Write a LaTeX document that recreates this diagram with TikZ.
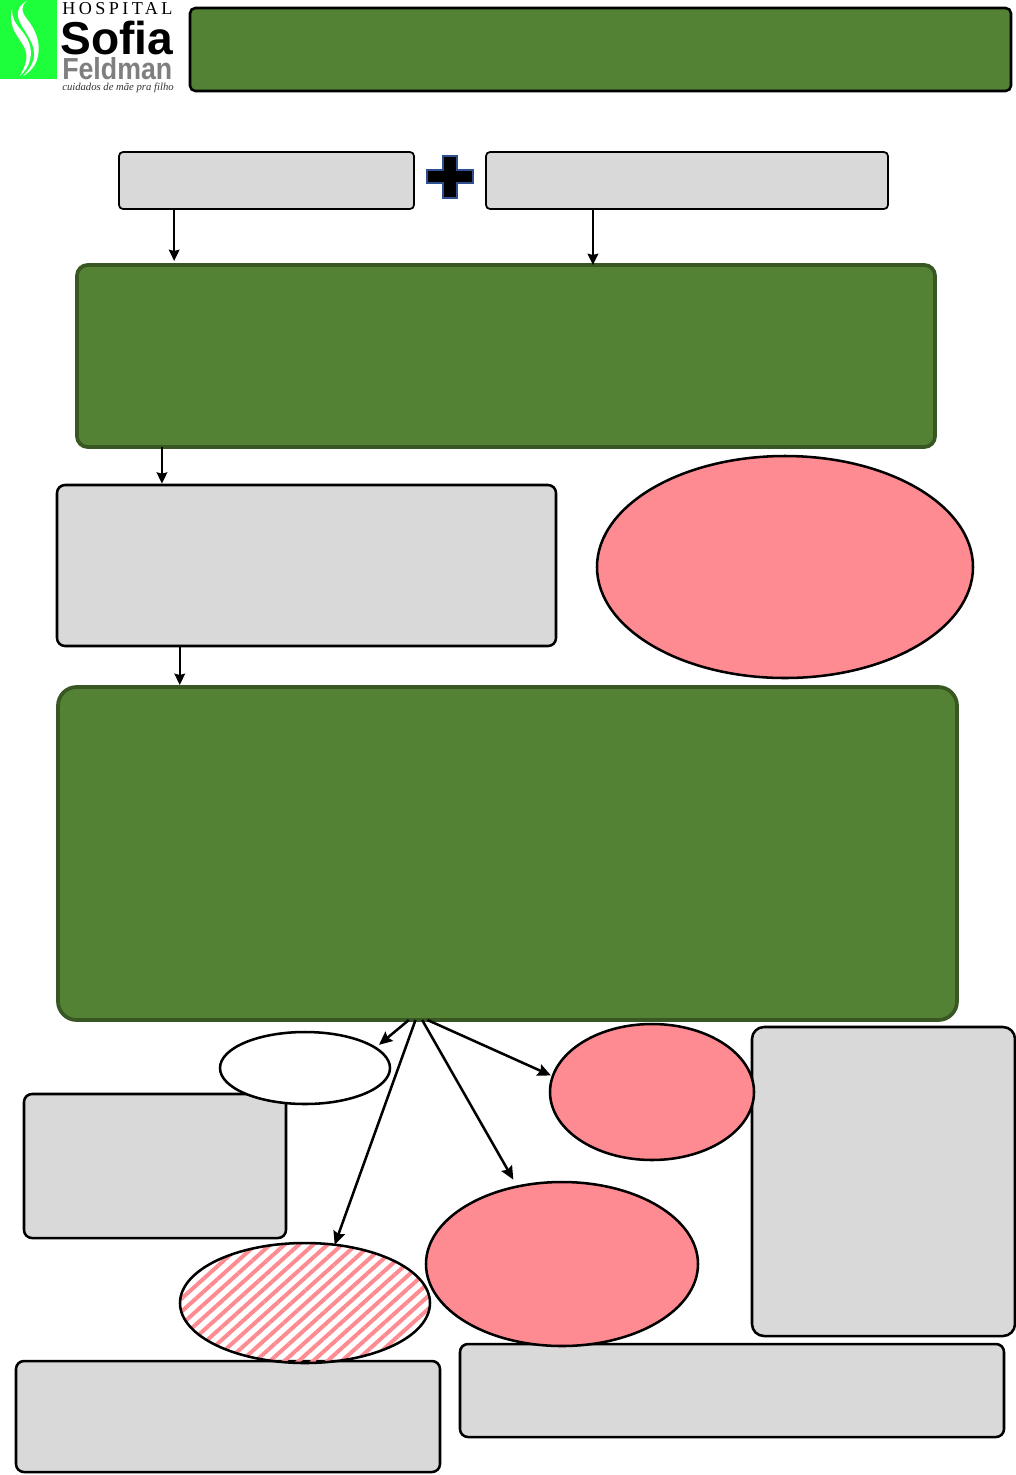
\documentclass[tikz,border=0pt]{standalone}
\usepackage{fontspec}
\setmainfont{Liberation Sans}
\newfontfamily\serifface{Liberation Serif}
\usetikzlibrary{arrows.meta}
\usetikzlibrary{calc}
\usetikzlibrary{patterns.meta}
\usetikzlibrary{shapes.geometric}
\definecolor{leafgreen}{HTML}{548235}
\definecolor{leafdark}{HTML}{385723}
\definecolor{logogreen}{HTML}{1EFF3C}
\definecolor{softgrey}{HTML}{D9D9D9}
\definecolor{softred}{HTML}{FF8B92}
\definecolor{plusblue}{HTML}{2F528F}
\definecolor{logogrey}{HTML}{7F7F7F}

\begin{document}
\begin{tikzpicture}[x=0.75pt, y=-0.75pt,
    sized/.style 2 args={minimum width=#1*0.75pt, minimum height=#2*0.75pt, inner sep=0pt, outer sep=0pt},
    greybox/.style={draw=black, fill=softgrey, line width=1.9pt, rounded corners=6pt},
    thingrey/.style={draw=black, fill=softgrey, line width=1.3pt, rounded corners=3pt},
    greenbox/.style={draw=leafdark, fill=leafgreen, line width=2.8pt, rounded corners=8pt},
    redblob/.style={ellipse, draw=black, fill=softred, line width=1.9pt},
    link/.style={black, line width=1.9pt, -{Stealth[length=10pt, width=9pt, inset=1.5pt]}},
    linkthin/.style={black, line width=1.5pt, -{Stealth[length=8.5pt, width=8pt, inset=1pt]}}]
  \useasboundingbox (0,0) rectangle (1016,1475);

  \fill [logogreen] (0,0) rectangle (57,79);
  \fill [white] (27,1) .. controls (21,5) and (21,12) .. (27,19) .. controls (35,29) and (41,42) .. (38,56) .. controls (36,66) and (30,72) .. (23,76) .. controls (29,70) and (35,62) .. (34,52) .. controls (33,40) and (23,30) .. (19,20) .. controls (16,12) and (19,5) .. (27,1);
  \fill [white] (12,9) .. controls (12,17) and (14,22) .. (21,30) .. controls (28,38) and (33,48) .. (30,60) .. controls (28,68) and (24,72) .. (20,76) .. controls (24,68) and (28,60) .. (26,52) .. controls (24,44) and (16,36) .. (13,28) .. controls (11,22) and (10,14) .. (12,9);
  \node [anchor=base west, inner sep=0pt] (hospital) at (62,14) {\serifface\addfontfeature{LetterSpace=19}\fontsize{13.6pt}{14pt}\selectfont HOSPITAL};
  \node [anchor=base west, inner sep=0pt] (sofia) at (60,54) {\fontsize{34.6pt}{35pt}\selectfont\bfseries Sofia};
  \node [anchor=base west, inner sep=0pt, text=logogrey] (feldman) at (62,79) {\scalebox{0.88}[1]{\fontsize{22.8pt}{23pt}\selectfont\bfseries Feldman}};
  \node [anchor=base west, inner sep=0pt, text=black!80] (motto) at (62,90) {\serifface\itshape\fontsize{8pt}{8pt}\selectfont cuidados de mãe pra filho};

  \node [draw=black, fill=leafgreen, line width=1.9pt, rounded corners=4pt, sized={821}{83}] (titlebar) at (600.5,49.5) {};
  \node [thingrey, sized={295}{57}] (topleft) at (266.5,180.5) {};
  \node [thingrey, sized={402}{57}] (topright) at (687,180.5) {};
  \draw [plusblue, fill=black, line width=1pt] (443,156) -- (457,156) -- (457,170) -- (473,170) -- (473,183) -- (457,183) -- (457,198) -- (443,198) -- (443,183) -- (427,183) -- (427,170) -- (443,170) -- cycle;

  \node [greenbox, sized={858}{182}] (greenone) at (506,356) {};
  \node [greybox, sized={499}{161}] (midgrey) at (306.5,565.5) {};
  \node [redblob, sized={376}{222}] (bigred) at (785,567) {};
  \node [greenbox, rounded corners=14pt, sized={899}{333}] (greentwo) at (507.5,853.5) {};

  \node [greybox, sized={262}{144}] (leftgrey) at (155,1166) {};
  \node [ellipse, draw=black, fill=white, line width=1.9pt, sized={170}{72}] (whiteoval) at (305,1068) {};
  \node [greybox, rounded corners=9pt, sized={263}{309}] (rightgrey) at (883.5,1181.5) {};
  \node [greybox, sized={424}{111}] (lowleft) at (228,1416.5) {};
  \node [greybox, sized={544}{93}] (lowright) at (732,1390.5) {};
  \node [redblob, sized={204}{136}] (redone) at (652,1092) {};
  \node [redblob, sized={272}{164}] (redtwo) at (562,1264) {};
  \node [ellipse, draw=black, line width=1.9pt, pattern={Lines[angle=42, distance=7.2pt, line width=3pt]}, pattern color=softred, sized={250}{120}] (stripedoval) at (305,1303) {};

  \coordinate (dropa) at ($(topleft.south west)!0.187!(topleft.south east)$);
  \coordinate (dropb) at ($(topright.south west)!0.266!(topright.south east)$);
  \coordinate (dropc) at ($(greenone.south west)!0.099!(greenone.south east)$);
  \coordinate (dropd) at ($(midgrey.south west)!0.246!(midgrey.south east)$);
  \coordinate (fana) at ($(greentwo.south)+(-74pt,0)$);
  \coordinate (fanb) at ($(greentwo.south)+(-69pt,0)$);
  \coordinate (fanc) at ($(greentwo.south)+(-64pt,0)$);
  \coordinate (fand) at ($(greentwo.south)+(-60pt,0)$);

  \draw [linkthin, shorten >=3pt] (dropa) -- (dropa |- greenone.north);
  \draw [linkthin] (dropb) -- (dropb |- greenone.north);
  \draw [linkthin, shorten >=1pt] (dropc) -- (dropc |- midgrey.north);
  \draw [linkthin, shorten >=1.5pt] (dropd) -- (dropd |- greentwo.north);
  \draw [link, shorten >=3.5pt] (fana) -- (whiteoval.16);
  \draw [link] (fanb) -- (stripedoval.63);
  \draw [link, shorten >=6pt] (fanc) -- (redtwo.120);
  \draw [link, shorten >=1.5pt] (fand) -- (redone.171);
\end{tikzpicture}
\end{document}
